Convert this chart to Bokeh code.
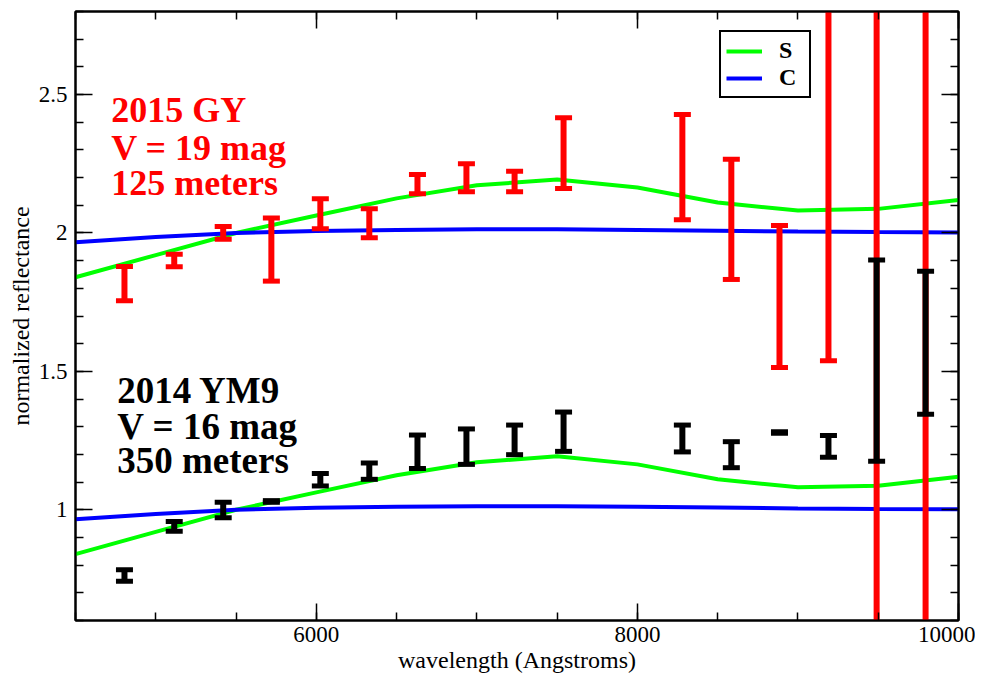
from bokeh.plotting import figure
from bokeh.models import (Label, LinearAxis, SingleIntervalTicker,
                          CustomJSTickFormatter, Range1d, ColumnDataSource)
from bokeh.embed import file_html
from bokeh.resources import INLINE

# ---- model spectra (normalized to 1 at 5500 A) ----
wl_model = [4500, 5000, 5500, 6000, 6500, 7000, 7500, 8000, 8500, 9000, 9500, 10000]
s_type = [0.840, 0.920, 1.000, 1.063, 1.125, 1.172, 1.193, 1.164, 1.110, 1.081, 1.087, 1.119]
c_type = [0.966, 0.985, 1.000, 1.007, 1.011, 1.013, 1.013, 1.011, 1.008, 1.005, 1.003, 1.002]
model_offsets = [1.0, 0.0]   # upper copy (2015 GY), lower copy (2014 YM9)

# ---- observed reflectance ranges ----
wl_obs = [4805, 5115, 5420, 5720, 6025, 6330, 6630, 6935, 7235, 7540,
          8280, 8585, 8885, 9190, 9490, 9795]
gy_hi = [1.879, 1.923, 2.023, 2.054, 2.124, 2.087, 2.211, 2.250, 2.223, 2.416,
         2.428, 2.266, 2.027, 3.300, 3.500, 3.600]
gy_lo = [1.755, 1.878, 1.977, 1.826, 2.015, 1.983, 2.142, 2.149, 2.149, 2.161,
         2.048, 1.832, 1.514, 1.538, 0.200, 0.100]
ym9_hi = [0.783, 0.958, 1.027, 1.033, 1.131, 1.169, 1.270, 1.292, 1.306, 1.353,
          1.306, 1.246, 1.282, 1.268, 1.902, 1.862]
ym9_lo = [0.742, 0.922, 0.971, 1.027, 1.086, 1.110, 1.149, 1.164, 1.199, 1.211,
          1.209, 1.152, 1.276, 1.190, 1.175, 1.345]

gy_text = ["2015 GY", "V = 19 mag", "125 meters"]
ym9_text = ["2014 YM9", "V = 16 mag", "350 meters"]

FONT = "Liberation Serif"

p = figure(width=975, height=675, output_backend="svg", toolbar_location=None,
           x_range=Range1d(4500, 10000), y_range=Range1d(0.6, 2.8),
           min_border_left=75, min_border_right=17, min_border_top=11,
           min_border_bottom=54, background_fill_color="white")
p.xgrid.visible = False
p.ygrid.visible = False
p.outline_line_color = "black"
p.outline_line_width = 2

bottom = p.xaxis[0]
left = p.yaxis[0]
bottom.ticker = SingleIntervalTicker(interval=2000, num_minor_ticks=4)
left.ticker = SingleIntervalTicker(interval=0.5, num_minor_ticks=5)
bottom.formatter = CustomJSTickFormatter(code="return String(tick);")
left.formatter = CustomJSTickFormatter(code="return String(tick);")

top = LinearAxis(ticker=SingleIntervalTicker(interval=2000, num_minor_ticks=4),
                 formatter=CustomJSTickFormatter(code="return '';"))
right = LinearAxis(ticker=SingleIntervalTicker(interval=0.5, num_minor_ticks=5),
                   formatter=CustomJSTickFormatter(code="return '';"))
p.add_layout(top, "above")
p.add_layout(right, "right")

for ax in [bottom, left, top, right]:
    ax.axis_line_width = 2
    ax.axis_line_color = "black"
    ax.major_tick_in = 17
    ax.major_tick_out = 0
    ax.minor_tick_in = 8
    ax.minor_tick_out = 0
    ax.major_tick_line_width = 1.5
    ax.minor_tick_line_width = 1.5
    ax.major_tick_line_color = "black"
    ax.minor_tick_line_color = "black"
    ax.major_label_text_font = FONT
    ax.major_label_text_font_size = "23px"
    ax.major_label_text_color = "black"
for ax in [top, right]:
    ax.major_label_standoff = 0
    ax.axis_label_standoff = 0
    ax.major_label_text_font_size = "1px"

bottom.major_label_standoff = 6
left.major_label_standoff = 8
bottom.axis_label = "wavelength (Angstroms)"
left.axis_label = "normalized reflectance"
for ax in [bottom, left]:
    ax.axis_label_text_font = FONT
    ax.axis_label_text_font_size = "24px"
    ax.axis_label_text_font_style = "normal"
    ax.axis_label_text_color = "black"
bottom.axis_label_standoff = 2
left.axis_label_standoff = 2

# model curves
for i, off in enumerate(model_offsets):
    s_vals = [v + off for v in s_type]
    c_vals = [v + off for v in c_type]
    if i == 0:
        p.line(wl_model, s_vals, line_color="#00ff00", line_width=4, legend_label="S")
        p.line(wl_model, c_vals, line_color="#0000ff", line_width=4, legend_label="C")
    else:
        p.line(wl_model, s_vals, line_color="#00ff00", line_width=4)
        p.line(wl_model, c_vals, line_color="#0000ff", line_width=4)

def error_bars(hi, lo, color):
    src = ColumnDataSource(dict(x=wl_obs, hi=hi, lo=lo))
    p.segment(x0="x", y0="lo", x1="x", y1="hi", source=src,
              line_color=color, line_width=6)
    for key in ["hi", "lo"]:
        p.rect(x="x", y=key, width=17, height=5, width_units="screen",
               height_units="screen", source=src, fill_color=color, line_color=None)

error_bars(gy_hi, gy_lo, "#ff0000")
error_bars(ym9_hi, ym9_lo, "black")

# annotations
gy_y = [2.444, 2.308, 2.180]
ym9_y = [1.432, 1.301, 1.177]
for t, yy in zip(gy_text, gy_y):
    p.add_layout(Label(x=4722, y=yy, text=t, text_font=FONT, text_font_style="bold",
                       text_font_size="36px", text_color="#ff0000",
                       text_baseline="alphabetic"))
for t, yy in zip(ym9_text, ym9_y):
    p.add_layout(Label(x=4760, y=yy, text=t, text_font=FONT, text_font_style="bold",
                       text_font_size="37px", text_color="black",
                       text_baseline="alphabetic"))

lg = p.legend[0]
lg.location = (644, 522)
lg.border_line_color = "black"
lg.border_line_alpha = 1
lg.border_line_width = 2.5
lg.label_text_font = FONT
lg.label_text_font_style = "bold"
lg.label_text_font_size = "24px"
lg.label_text_color = "black"
lg.glyph_width = 36
lg.glyph_height = 20
lg.label_height = 20
lg.label_width = 25
lg.label_standoff = 17
lg.padding = 5
lg.spacing = 0
lg.margin = 0
lg.background_fill_color = "white"
lg.background_fill_alpha = 1

open("out.html", "w").write(file_html(p, INLINE))
